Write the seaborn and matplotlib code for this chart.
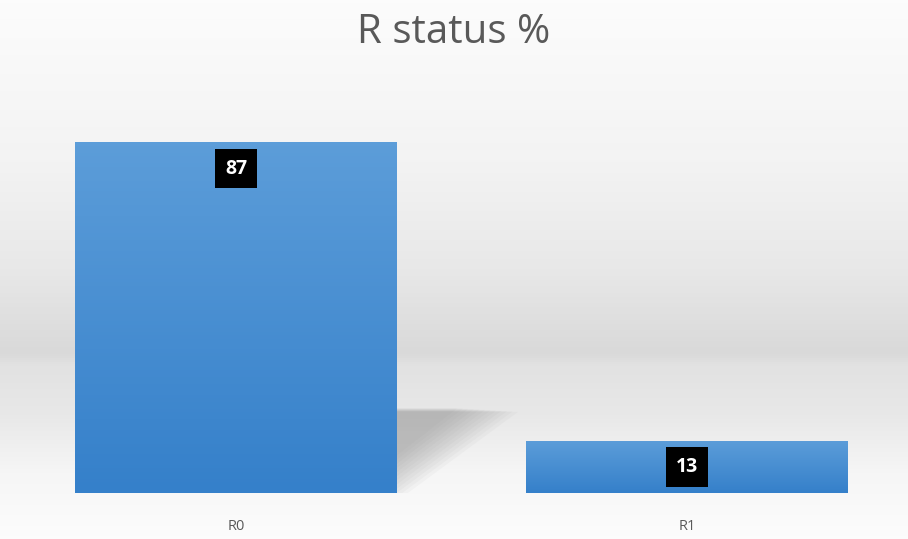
import numpy as np
import pandas as pd
import seaborn as sns
import matplotlib.pyplot as plt
from matplotlib.colors import LinearSegmentedColormap
from matplotlib.patches import Polygon

categories = ["R0", "R1"]
values = [87, 13]
title = "R status %"

sns.set_theme(style="white")
plt.rcParams['font.family'] = ['Open Sans', 'DejaVu Sans']

fig = plt.figure(figsize=(9.08, 5.39), dpi=100)

# background gradient, grey band a bit below the middle
bg = fig.add_axes([0, 0, 1, 1], zorder=0)
bg.axis("off")
bg_cmap = LinearSegmentedColormap.from_list(
    "bg", [(0.0, "#fcfcfc"), (0.3, "#f3f3f3"), (0.5, "#e8e8e8"),
           (0.655, "#d9d9d9"), (0.68, "#e2e2e2"), (0.77, "#e8e8e8"),
           (0.88, "#f6f6f6"), (1.0, "#fcfcfc")])
grad = np.linspace(0, 1, 539).reshape(-1, 1)
bg.imshow(grad, aspect="auto", cmap=bg_cmap, extent=[0, 1, 0, 1], origin="upper")

ax = fig.add_axes([0.0115, 0.0853, 0.9935, 0.748], zorder=1)
ax.patch.set_alpha(0)
df = pd.DataFrame({"cat": categories, "val": values})
sns.barplot(data=df, x="cat", y="val", color="#4a8fd4", width=0.712,
            saturation=1, linewidth=0, ax=ax, zorder=3)
ax.set_ylim(0, 100)
ax.set_xlim(-0.5, 1.5)

# gradient fill on bars
bar_cmap = LinearSegmentedColormap.from_list("bar", ["#5c9dd9", "#3580ca"])
for p in ax.patches:
    x0, y0 = p.get_x(), p.get_y()
    w, h = p.get_width(), p.get_height()
    im = ax.imshow(np.linspace(0, 1, 100).reshape(-1, 1), cmap=bar_cmap,
                   extent=[x0, x0 + w, y0, y0 + h], aspect="auto",
                   origin="upper", zorder=3.5)
    im.set_clip_path(p)

# soft shadow behind first bar (stacked translucent triangles for blur)
p0 = ax.patches[0]
right = p0.get_x() + p0.get_width()
for k in range(12):
    s = 0.55 + k * 0.05
    top = 20.3 + 1.6 * (1 - s)
    shadow = Polygon([(right, top), (right + 0.245 * s, top),
                      (right, 20.5 - 20.5 * s)],
                     closed=True, facecolor="#8c8c8c", alpha=0.055,
                     edgecolor="none", zorder=2)
    ax.add_patch(shadow)

# value labels
for p, v in zip(ax.patches, values):
    cx = p.get_x() + p.get_width() / 2
    top = p.get_height()
    ax.annotate(str(v), (cx, top), xytext=(0, -19), textcoords="offset points",
                ha="center", va="center", color="white", fontsize=14,
                fontweight="bold", zorder=5,
                bbox=dict(boxstyle="square,pad=0.5", fc="black", ec="none"))

ax.set_xlabel("")
ax.set_ylabel("")
ax.set_yticks([])
ax.tick_params(axis="x", length=0, pad=19, labelsize=10.5, labelcolor="#595959")
sns.despine(ax=ax, left=True, bottom=True)

fig.text(0.5, 0.92, title, ha="center", va="baseline", fontsize=29, color="#595959")

fig.savefig("out.png", dpi=100)
